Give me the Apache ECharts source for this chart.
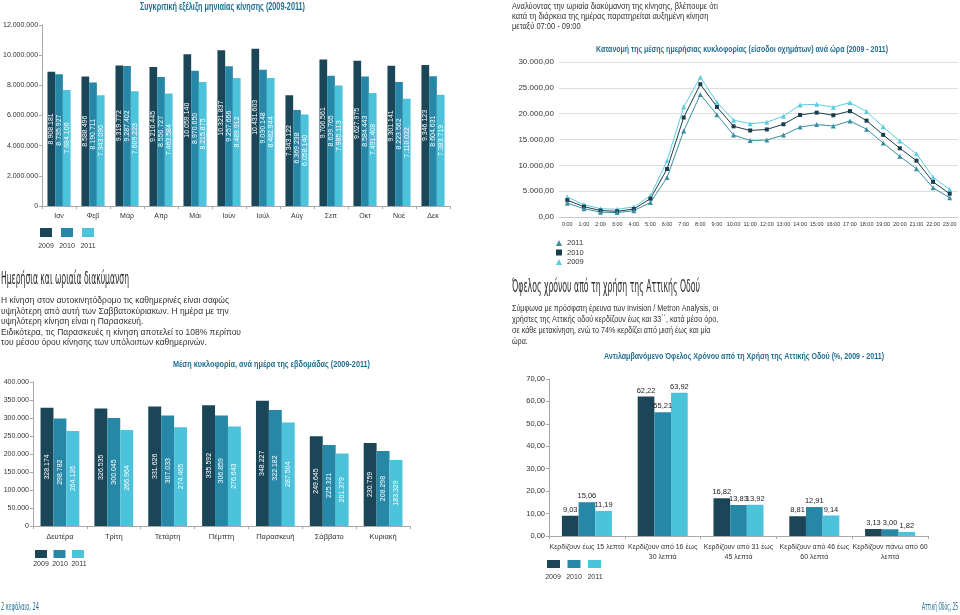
<!DOCTYPE html>
<html><head><meta charset="utf-8">
<script src="https://cdn.jsdelivr.net/npm/echarts@6/dist/echarts.min.js"></script>
<style>html,body{margin:0;padding:0;background:#fff}#c{width:960px;height:615px}</style>
</head><body><div id="c"></div>
<script>
// ---------- DATA ----------
const months = ['Ιαν','Φεβ','Μάρ','Απρ','Μάι','Ιούν','Ιούλ','Αύγ','Σεπ','Οκτ','Νοέ','Δεκ'];
const monthly2009 = [8908181,8588496,9319772,9210445,10059140,10321837,10431603,7343122,9706561,9627975,9301141,9346123];
const monthly2010 = [8735927,8190711,9287402,8550727,8970650,9257666,9030148,6369238,8639765,8584443,8223562,8604631];
const monthly2011 = [7684106,7343090,7609223,7463584,8215875,8489912,8482944,6058140,7985113,7491408,7110022,7383719];

const hours = ['0:00','1:00','2:00','3:00','4:00','5:00','6:00','7:00','8:00','9:00','10:00','11:00','12:00','13:00','14:00','15:00','16:00','17:00','18:00','19:00','20:00','21:00','22:00','23:00'];
const hourly2009 = [3850,2400,1600,1500,1950,4100,10900,21300,27050,22200,18750,18050,18350,19500,21700,21800,21250,22150,20400,17450,14700,12250,7700,5300];
const hourly2010 = [3250,2000,1250,1100,1550,3550,9300,19250,25700,21300,17550,16750,16950,17950,19750,20200,19700,20500,18650,15900,13300,10900,6800,4500];
const hourly2011 = [2680,1600,930,850,1220,2820,7650,16650,23700,19800,15850,14800,14900,15850,17400,17900,17600,18600,17000,14300,11750,9350,5650,3720];

const days = ['Δευτέρα','Τρίτη','Τετάρτη','Πέμπτη','Παρασκευή','Σάββατο','Κυριακή'];
const daily2009 = [328174,326535,331626,335592,348227,249645,230759];
const daily2010 = [298782,300045,307033,306859,322182,225321,208298];
const daily2011 = [264126,266964,274465,276643,287504,201379,183329];

const benefitCats = ['Κερδίζουν έως 15 λεπτά','Κερδίζουν από 16 έως\n30 λεπτά','Κερδίζουν από 31 έως\n45 λεπτά','Κερδίζουν από 46 έως\n60 λεπτά','Κερδίζουν πάνω από 60\nλεπτά'];
const benefit2009 = [9.03,62.22,16.82,8.81,3.13];
const benefit2010 = [15.06,55.21,13.83,12.91,3.00];
const benefit2011 = [11.19,63.92,13.92,9.14,1.82];

const years = ['2009','2010','2011'];

// ---------- STYLE ----------
const FONT = '"Liberation Sans", Arial, sans-serif';
const NARROW = '"Liberation Sans Narrow", "DejaVu Sans Condensed", "Liberation Sans", sans-serif';
const TEAL = '#1f6f93';
const TXT = '#333';
const B09 = '#1b4657', B10 = '#2688a6', B11 = '#4cc3da';
const L09 = '#5bcde0', L10 = '#1b3d4c', L11 = '#3a8fa3';
const AX = '#a8a8a8';

function fmtInt(v){ return String(Math.round(v)).replace(/\B(?=(\d{3})+(?!\d))/g,'.'); }
function fmtDec(v){ const p = Number(v).toFixed(2).split('.'); return p[0].replace(/\B(?=(\d{3})+(?!\d))/g,'.') + ',' + p[1]; }

const mctx = document.createElement('canvas').getContext('2d');
function measure(t, size, weight, fam){ mctx.font = weight + ' ' + size + 'px ' + fam; return mctx.measureText(t).width; }
function textBlock(lines, x, ys, size, weight, fam, color, refIdx, targetW, align){
  const s = targetW / measure(lines[refIdx], size, weight, fam);
  return lines.map((t,i)=>({type:'text', x:x, y:ys[i], scaleX:s, silent:true,
    style:{text:t, fontSize:size, fontWeight:weight, fontFamily:fam, fill:color, align:align||'left', verticalAlign:'middle'}}));
}
function smallText(t, x, y, size, color){
  return {type:'text', x:x, y:y, silent:true, style:{text:t, fontSize:size, fontFamily:FONT, fill:color||TXT, align:'center', verticalAlign:'middle'}};
}

const graphics = [].concat(
  textBlock(['Συγκριτική εξέλιξη μηνιαίας κίνησης (2009-2011)'], 140, [7], 10, 'bold', FONT, TEAL, 0, 165),
  textBlock(['Αναλύοντας την ωριαία διακύμανση της κίνησης, βλέπουμε ότι','κατά τη διάρκεια της ημέρας παρατηρείται αυξημένη κίνηση','μεταξύ 07:00 - 09:00'], 512, [7,17,27], 9, 'normal', FONT, TXT, 0, 206),
  textBlock(['Κατανομή της μέσης ημερήσιας κυκλοφορίας (είσοδοι οχημάτων) ανά ώρα (2009 - 2011)'], 596, [50], 9, 'bold', FONT, TEAL, 0, 292),
  textBlock(['Ημερήσια και ωριαία διακύμανση'], 1, [279], 18, 'normal', NARROW, '#2a2a2a', 0, 128),
  textBlock(['Η κίνηση στον αυτοκινητόδρομο τις καθημερινές είναι σαφώς','υψηλότερη από αυτή των Σαββατοκύριακων. Η ημέρα με την','υψηλότερη κίνηση είναι η Παρασκευή.','Ειδικότερα, τις Παρασκευές η κίνηση αποτελεί το 108% περίπου','του μέσου όρου κίνησης των υπόλοιπων καθημερινών.'], 1, [301,312,322,333,343], 9, 'normal', FONT, TXT, 3, 240),
  textBlock(['Μέση κυκλοφορία, ανά ημέρα της εβδομάδας (2009-2011)'], 173, [365], 9, 'bold', FONT, TEAL, 0, 197),
  textBlock(['Όφελος χρόνου από τη χρήση της Αττικής Οδού'], 512, [287], 18, 'normal', NARROW, '#2a2a2a', 0, 188),
  textBlock(['Σύμφωνα με πρόσφατη έρευνα των Invision / Metron Analysis, οι','χρήστες της Αττικής οδού κερδίζουν έως και 33΄΄, κατά μέσο όρο,','σε κάθε μετακίνηση, ενώ το 74% κερδίζει από μισή έως και μία','ώρα.'], 512, [309,320,331,342], 9, 'normal', FONT, TXT, 0, 206),
  textBlock(['Αντιλαμβανόμενο Όφελος Χρόνου από τη Χρήση της Αττικής Οδού (%, 2009 - 2011)'], 604, [357], 9, 'bold', FONT, TEAL, 0, 280),
  textBlock(['2 κεφάλαιο, 24'], 1, [607], 11, 'normal', NARROW, TEAL, 0, 38),
  textBlock(['Αττική Οδός, 25'], 958, [607], 11, 'normal', NARROW, TEAL, 0, 36, 'right'),
  // legend year labels under the square keys
  [smallText('2009',46,246,7), smallText('2010',67,246,7), smallText('2011',88,246,7)],
  [smallText('2009',41,564,7), smallText('2010',60,564,7), smallText('2011',79,564,7)],
  [smallText('2009',553,577,7), smallText('2010',574,577,7), smallText('2011',595,577,7)]
);

function barLegend(left, top, w, h, gap){
  return {left:left, top:top, padding:0, itemWidth:w, itemHeight:h, itemGap:gap, selectedMode:false,
    formatter:()=>'', textStyle:{fontSize:1},
    data:[{name:'2009',icon:'rect',itemStyle:{color:B09}},{name:'2010',icon:'rect',itemStyle:{color:B10}},{name:'2011',icon:'rect',itemStyle:{color:B11}}]};
}

function catAxis(gi, data, extra){
  return Object.assign({type:'category', gridIndex:gi, data:data,
    axisLine:{lineStyle:{color:AX}}, axisTick:{show:true, length:3, lineStyle:{color:AX}},
    axisLabel:{fontSize:7, color:TXT, fontFamily:FONT, margin:7, interval:0}}, extra||{});
}
function valAxis(gi, max, interval, fmt, extra){
  return Object.assign({type:'value', gridIndex:gi, min:0, max:max, interval:interval,
    axisLine:{show:true, lineStyle:{color:AX}}, axisTick:{show:true, length:3, lineStyle:{color:AX}},
    splitLine:{show:false}, axisLabel:{fontSize:7, color:TXT, fontFamily:FONT, margin:4, formatter:fmt}}, extra||{});
}

function barSeries(name, data, color, ai, gap, label){
  return {type:'bar', name:name, xAxisIndex:ai, yAxisIndex:ai, data:data, barGap:'0%', barCategoryGap:gap,
    itemStyle:{color:color}, label:label, emphasis:{disabled:true}, animation:false};
}
function insideLabel(offset){
  return {show:true, position:'inside', rotate:90, color:'#fff', fontSize:7, fontFamily:FONT, offset:offset||[0,0], formatter:p=>fmtInt(p.value)};
}
const topLabel = {show:true, position:'top', distance:2, color:'#222', fontSize:7.5, fontFamily:FONT, formatter:p=>fmtDec(p.value)};

function lineSeries(name, data, color, sym){
  return {type:'line', name:name, xAxisIndex:1, yAxisIndex:1, data:data, symbol:sym, symbolSize:sym==='rect'?4:5,
    showSymbol:true, lineStyle:{width:1, color:color}, itemStyle:{color:color}, emphasis:{disabled:true}, animation:false};
}

const option = {
  animation:false,
  backgroundColor:'#fff',
  textStyle:{fontFamily:FONT},
  grid:[
    {left:40, top:25, width:410, height:181},
    {left:559, top:62, width:399, height:155},
    {left:33, top:382, width:377, height:144},
    {left:549, top:379, width:379, height:157}
  ],
  xAxis:[
    catAxis(0, months),
    catAxis(1, hours, {axisLine:{lineStyle:{color:'#c8c8c8'}}, axisTick:{length:3, lineStyle:{color:'#c8c8c8'}},
      axisLabel:{fontSize:5.5, color:TXT, fontFamily:FONT, margin:4, interval:0}}),
    catAxis(2, days, {axisLabel:{fontSize:7.5, color:TXT, fontFamily:FONT, margin:7, interval:0}}),
    catAxis(3, benefitCats, {axisLabel:{fontSize:7, color:TXT, fontFamily:FONT, margin:6, interval:0, lineHeight:10}})
  ],
  yAxis:[
    valAxis(0, 12000000, 2000000, fmtInt),
    valAxis(1, 30000, 5000, fmtDec, {axisLine:{show:false}, axisTick:{show:false},
      splitLine:{show:true, lineStyle:{color:'#dedede', width:1}},
      axisLabel:{fontSize:8, color:TXT, fontFamily:FONT, margin:5, formatter:fmtDec}}),
    valAxis(2, 400000, 50000, fmtInt),
    valAxis(3, 70, 10, fmtDec, {axisLabel:{fontSize:7.5, color:TXT, fontFamily:FONT, margin:4, formatter:fmtDec}})
  ],
  legend:[
    barLegend(40, 228, 12, 9, 9),
    {orient:'vertical', left:556, top:239, padding:0, itemWidth:6, itemHeight:6, itemGap:1.5, selectedMode:false,
      textStyle:{fontSize:7.5, color:TXT, fontFamily:FONT},
      data:[{name:'2011',icon:'triangle',itemStyle:{color:L11}},{name:'2010',icon:'rect',itemStyle:{color:L10}},{name:'2009',icon:'triangle',itemStyle:{color:L09}}]},
    barLegend(35, 550, 12, 8, 6.5),
    barLegend(547, 560, 13, 8, 7.5)
  ],
  series:[
    barSeries('2009', monthly2009, B09, 0, '32%', insideLabel([10,0])),
    barSeries('2010', monthly2010, B10, 0, '32%', insideLabel([10,0])),
    barSeries('2011', monthly2011, B11, 0, '32%', insideLabel([10,0])),
    barSeries('2009', daily2009, B09, 2, '28%', insideLabel()),
    barSeries('2010', daily2010, B10, 2, '28%', insideLabel()),
    barSeries('2011', daily2011, B11, 2, '28%', insideLabel()),
    barSeries('2009', benefit2009, B09, 3, '34%', topLabel),
    barSeries('2010', benefit2010, B10, 3, '34%', topLabel),
    barSeries('2011', benefit2011, B11, 3, '34%', topLabel),
    lineSeries('2009', hourly2009, L09, 'triangle'),
    lineSeries('2010', hourly2010, L10, 'rect'),
    lineSeries('2011', hourly2011, L11, 'triangle')
  ],
  graphic:{elements:graphics}
};

const chart = echarts.init(document.getElementById('c'), null, {renderer:'canvas'});
chart.setOption(option);
</script>
</body></html>
